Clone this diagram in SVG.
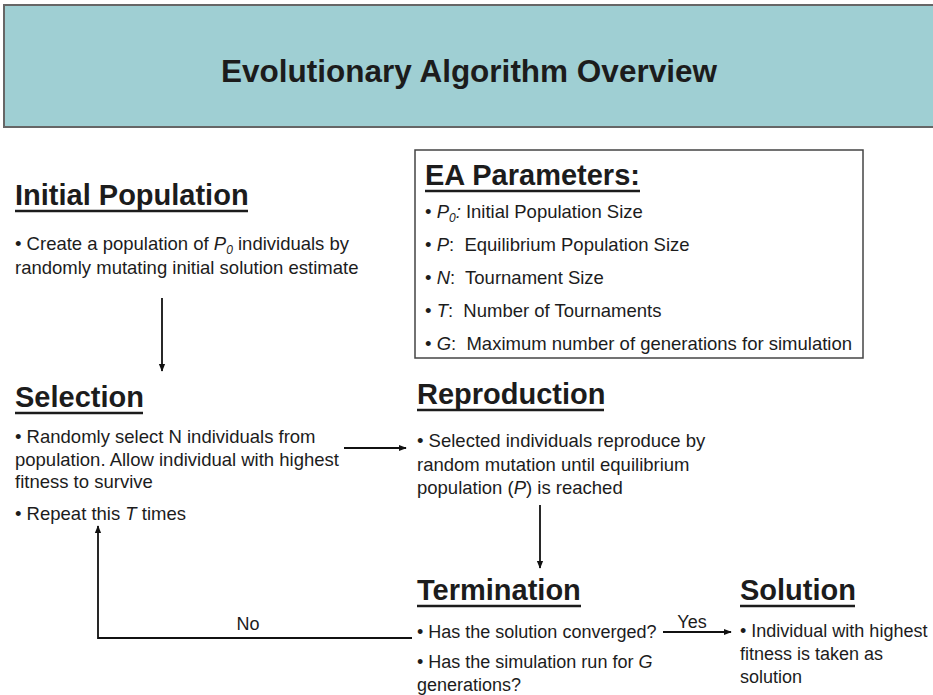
<svg xmlns="http://www.w3.org/2000/svg" width="933" height="695" viewBox="0 0 933 695">
<defs>
<marker id="ah" viewBox="0 0 10 10" refX="9" refY="5" markerWidth="8" markerHeight="8" markerUnits="userSpaceOnUse" orient="auto">
<path d="M0,1 L10,5 L0,9 Z" fill="#111"/>
</marker>
</defs>
<style>
text{font-family:"Liberation Sans",Arial,sans-serif;fill:#1c1c1c}
.h{font-size:29px;font-weight:bold}
.b{font-size:18.5px}
.s{font-size:18px}
.l{font-size:18px}
.pre{white-space:pre}
.ul{stroke:#1c1c1c;stroke-width:2.5}
.c{fill:none;stroke:#111;stroke-width:1.8}
</style>
<rect width="933" height="695" fill="#fff"/>
<g id="header">
<rect x="4" y="5" width="935" height="122" fill="#9fcfd3" stroke="#666" stroke-width="2"/>
<text x="469" y="82" text-anchor="middle" style="font-size:31.5px;font-weight:bold">Evolutionary Algorithm Overview</text>
</g>
<g id="initial-population">
<text class="h" x="15" y="205">Initial Population</text>
<line class="ul" x1="15" y1="211" x2="248" y2="211"/>
<text class="b" x="15" y="250">• Create a population of <tspan font-style="italic">P</tspan><tspan font-style="italic" font-size="12" dy="4">0</tspan><tspan dy="-4"> individuals by</tspan></text>
<text class="b" x="15" y="274">randomly mutating initial solution estimate</text>
</g>
<g id="ea-parameters">
<rect x="415" y="150" width="448" height="208" fill="#fff" stroke="#444" stroke-width="1.5"/>
<text class="h" x="425" y="185">EA Parameters:</text>
<line class="ul" x1="425" y1="191" x2="640" y2="191"/>
<text class="b pre" x="425" y="218">• <tspan font-style="italic">P</tspan><tspan font-style="italic" font-size="12" dy="4">0</tspan><tspan dy="-4" font-style="italic">:</tspan> Initial Population Size</text>
<text class="b pre" x="425" y="251">• <tspan font-style="italic">P</tspan>:  Equilibrium Population Size</text>
<text class="b pre" x="425" y="284">• <tspan font-style="italic">N</tspan>:  Tournament Size</text>
<text class="b pre" x="425" y="317">• <tspan font-style="italic">T</tspan>:  Number of Tournaments</text>
<text class="b pre" x="425" y="350">• <tspan font-style="italic">G</tspan>:  Maximum number of generations for simulation</text>
</g>
<g id="selection">
<text class="h" x="15" y="407">Selection</text>
<line class="ul" x1="15" y1="413" x2="143" y2="413"/>
<text class="b" x="15" y="443">• Randomly select N individuals from</text>
<text class="b" x="15" y="466">population. Allow individual with highest</text>
<text class="b" x="15" y="488">fitness to survive</text>
<text class="b" x="15" y="520">• Repeat this <tspan font-style="italic">T</tspan> times</text>
</g>
<g id="reproduction">
<text class="h" x="417" y="404">Reproduction</text>
<line class="ul" x1="417" y1="410" x2="604" y2="410"/>
<text class="b" x="417" y="447">• Selected individuals reproduce by</text>
<text class="b" x="417" y="471">random mutation until equilibrium</text>
<text class="b" x="417" y="494">population (<tspan font-style="italic">P</tspan>) is reached</text>
</g>
<g id="termination">
<text class="h" x="417" y="600">Termination</text>
<line class="ul" x1="417" y1="606" x2="581" y2="606"/>
<text class="s" x="417" y="638">• Has the solution converged?</text>
<text class="s" x="417" y="668">• Has the simulation run for <tspan font-style="italic">G</tspan></text>
<text class="s" x="417" y="691">generations?</text>
</g>
<g id="solution">
<text class="h" x="740" y="600">Solution</text>
<line class="ul" x1="740" y1="606" x2="855" y2="606"/>
<text class="s" x="740" y="637">• Individual with highest</text>
<text class="s" x="740" y="660">fitness is taken as</text>
<text class="s" x="740" y="683">solution</text>
</g>
<g id="connectors">
<line class="c" x1="162" y1="298" x2="162" y2="371" marker-end="url(#ah)"/>
<line class="c" x1="344" y1="448" x2="406" y2="448" marker-end="url(#ah)"/>
<line class="c" x1="540" y1="505" x2="540" y2="568" marker-end="url(#ah)"/>
<line class="c" x1="663" y1="632" x2="731" y2="632" marker-end="url(#ah)"/>
<polyline class="c" points="412,638 98,638 98,526" marker-end="url(#ah)"/>
<text class="l" x="248" y="630" text-anchor="middle">No</text>
<text class="l" x="692" y="628" text-anchor="middle">Yes</text>
</g>
</svg>
